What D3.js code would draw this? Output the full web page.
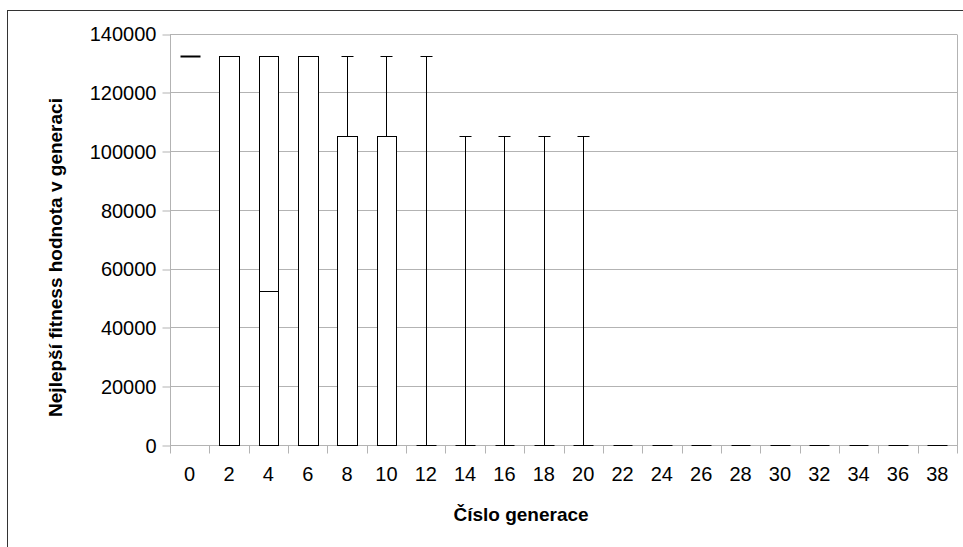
<!DOCTYPE html>
<html>
<head>
<meta charset="utf-8">
<script src="https://cdn.jsdelivr.net/npm/d3@7"></script>
<style>
  html, body { margin: 0; padding: 0; background: #fff; }
  svg { display: block; font-family: "Liberation Sans", Arial, sans-serif; }
</style>
</head>
<body>
<svg id="chart" width="963" height="547"></svg>
<script>
// Data: box-plot statistics per generation
const categories = ["0","2","4","6","8","10","12","14","16","18","20","22","24","26","28","30","32","34","36","38"];
const minVals    = [132500,0,0,0,0,0,0,0,0,0,0,0,0,0,0,0,0,0,0,0];
const q1Vals     = [132500,0,0,0,0,0,0,0,0,0,0,0,0,0,0,0,0,0,0,0];
const medianVals = [132500,132500,52500,132500,105000,105000,0,0,0,0,0,0,0,0,0,0,0,0,0,0];
const q3Vals     = [132500,132500,132500,132500,105000,105000,0,0,0,0,0,0,0,0,0,0,0,0,0,0];
const maxVals    = [132500,132500,132500,132500,132500,132500,132500,105000,105000,105000,105000,0,0,0,0,0,0,0,0,0];
const yTicks     = [0,20000,40000,60000,80000,100000,120000,140000];
const xTitle = "Číslo generace";
const yTitle = "Nejlepší fitness hodnota v generaci";

const svg = d3.select("#chart");
const plot = { left: 170, right: 957, top: 33.5, bottom: 445 };

// outer frame
svg.append("rect")
  .attr("x", 7.5).attr("y", 10.5)
  .attr("width", 1000).attr("height", 600)
  .attr("fill", "none").attr("stroke", "#333").attr("stroke-width", 1);

const x = d3.scaleBand().domain(categories).range([plot.left, plot.right]).padding(0);
const y = d3.scaleLinear().domain([0, 140000]).range([plot.bottom, plot.top]);

// grid lines
svg.append("g").selectAll("line").data(yTicks).join("line")
  .attr("x1", plot.left).attr("x2", plot.right)
  .attr("y1", d => Math.round(y(d)) + 0.5).attr("y2", d => Math.round(y(d)) + 0.5)
  .attr("stroke", "#b3b3b3").attr("stroke-width", 1);

// right border of plot area
svg.append("line")
  .attr("x1", plot.right + 0.5).attr("x2", plot.right + 0.5)
  .attr("y1", Math.round(y(140000)) + 0.5).attr("y2", plot.bottom + 0.5)
  .attr("stroke", "#b3b3b3");

// Y axis
const yAxis = d3.axisLeft(y).tickValues(yTicks).tickSize(8).tickPadding(6).tickFormat(d3.format("d"));
const gy = svg.append("g").attr("transform", `translate(${plot.left + 0.5},0)`).call(yAxis);
gy.select(".domain").attr("stroke", "#b3b3b3").attr("d", `M0,${Math.round(y(140000))+0.5}V${plot.bottom+0.5}`);
gy.selectAll(".tick line").attr("stroke", "#b3b3b3")
  .attr("transform", function(d){ return `translate(0,${Math.round(y(d))+0.5 - y(d)})`; });
gy.selectAll(".tick text").attr("font-size", 20).attr("fill", "#000")
  .attr("font-family", "Liberation Sans, Arial, sans-serif").attr("dy", "0.36em");

// X axis (ticks at band boundaries)
const gx = svg.append("g").attr("transform", `translate(0,${plot.bottom + 0.5})`);
gx.append("line").attr("x1", plot.left).attr("x2", plot.right + 1).attr("y1", 0).attr("y2", 0).attr("stroke", "#b3b3b3");
const bounds = categories.map(c => x(c)).concat([plot.right]);
gx.selectAll("line.tk").data(bounds).join("line").attr("class", "tk")
  .attr("x1", d => Math.round(d) + 0.5).attr("x2", d => Math.round(d) + 0.5)
  .attr("y1", 0).attr("y2", 8).attr("stroke", "#b3b3b3");
gx.selectAll("text").data(categories).join("text")
  .attr("x", d => x(d) + x.bandwidth() / 2).attr("y", 35)
  .attr("text-anchor", "middle").attr("font-size", 20).attr("fill", "#000")
  .text(d => d);

// Boxes
const boxW = x.bandwidth() * 0.5;
const capW = 12;
const data = categories.map((c, i) => ({ c, min: minVals[i], q1: q1Vals[i], med: medianVals[i], q3: q3Vals[i], max: maxVals[i] }));
const px = v => Math.round(v) + 0.5;
const g = svg.append("g").attr("stroke", "#000").attr("stroke-width", 1).attr("fill", "none");
data.forEach(d => {
  const cx = px(x(d.c) + x.bandwidth() / 2);
  const x0 = px(x(d.c) + x.bandwidth() / 2 - boxW / 2);
  const x1 = px(x(d.c) + x.bandwidth() / 2 + boxW / 2);
  if (d.max > d.q3) {
    g.append("line").attr("x1", cx).attr("x2", cx).attr("y1", px(y(d.q3))).attr("y2", px(y(d.max)));
    g.append("line").attr("x1", cx - capW / 2).attr("x2", cx + capW / 2).attr("y1", px(y(d.max))).attr("y2", px(y(d.max)));
  }
  if (d.min < d.q1) {
    g.append("line").attr("x1", cx).attr("x2", cx).attr("y1", px(y(d.q1))).attr("y2", px(y(d.min)));
    g.append("line").attr("x1", cx - capW / 2).attr("x2", cx + capW / 2).attr("y1", px(y(d.min))).attr("y2", px(y(d.min)));
  }
  g.append("rect").attr("x", x0).attr("y", px(y(d.q3)))
    .attr("width", x1 - x0).attr("height", px(y(d.q1)) - px(y(d.q3)))
    .attr("fill", "#fff");
  g.append("line").attr("x1", x0).attr("x2", x1).attr("y1", px(y(d.med))).attr("y2", px(y(d.med)))
    .attr("stroke-width", d.q1 === d.q3 && d.q3 !== 0 ? 2 : 1);
});

// Axis titles
svg.append("text").attr("x", 521).attr("y", 521).attr("text-anchor", "middle")
  .attr("font-size", 19).attr("font-weight", "bold").attr("fill", "#000").text(xTitle);
svg.append("text").attr("transform", "translate(62,257.5) rotate(-90)").attr("text-anchor", "middle")
  .attr("font-size", 19).attr("font-weight", "bold").attr("fill", "#000").text(yTitle);
</script>
</body>
</html>
